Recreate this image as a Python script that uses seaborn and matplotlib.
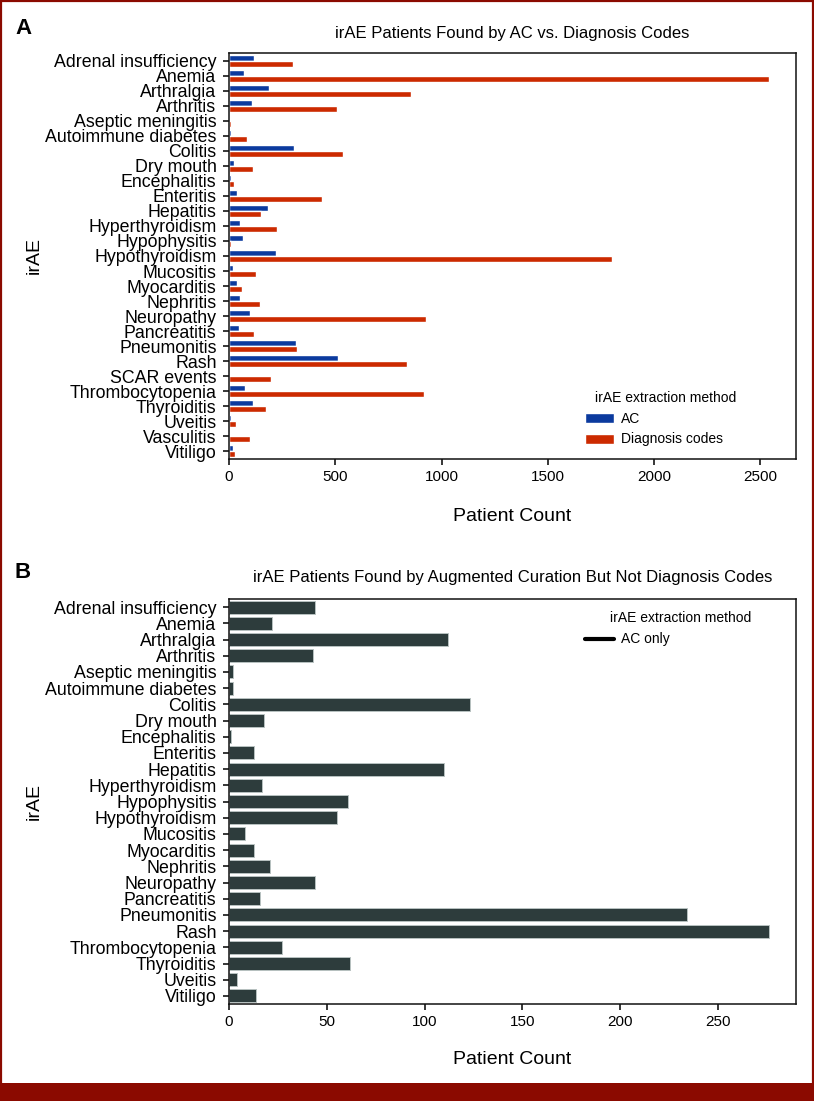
import matplotlib
matplotlib.use("Agg")
import matplotlib.pyplot as plt
import seaborn as sns
import pandas as pd
from matplotlib.lines import Line2D
from matplotlib.patches import Rectangle

# ---------------- data ----------------
categories = [
    "Adrenal insufficiency", "Anemia", "Arthralgia", "Arthritis", "Aseptic meningitis",
    "Autoimmune diabetes", "Colitis", "Dry mouth", "Encephalitis", "Enteritis",
    "Hepatitis", "Hyperthyroidism", "Hypophysitis", "Hypothyroidism", "Mucositis",
    "Myocarditis", "Nephritis", "Neuropathy", "Pancreatitis", "Pneumonitis", "Rash",
    "SCAR events", "Thrombocytopenia", "Thyroiditis", "Uveitis", "Vasculitis", "Vitiligo",
]
ac_counts = [117, 71, 189, 109, 2, 10, 307, 25, 8, 36, 183, 53, 66, 223, 19,
             38, 52, 101, 46, 315, 515, 0, 76, 113, 8, 0, 19]
dx_counts = [302, 2540, 858, 510, 8, 84, 535, 113, 25, 437, 150, 225, 11, 1802, 129,
             60, 146, 925, 117, 321, 839, 198, 915, 172, 33, 101, 30]

only_categories = [
    "Adrenal insufficiency", "Anemia", "Arthralgia", "Arthritis", "Aseptic meningitis",
    "Autoimmune diabetes", "Colitis", "Dry mouth", "Encephalitis", "Enteritis",
    "Hepatitis", "Hyperthyroidism", "Hypophysitis", "Hypothyroidism", "Mucositis",
    "Myocarditis", "Nephritis", "Neuropathy", "Pancreatitis", "Pneumonitis", "Rash",
    "Thrombocytopenia", "Thyroiditis", "Uveitis", "Vitiligo",
]
ac_only_counts = [44, 22, 112, 43, 2, 2, 123, 18, 1, 13, 110, 17, 61, 55, 8,
                  13, 21, 44, 16, 234, 276, 27, 62, 4, 14]

methods = ["AC", "Diagnosis codes"]
method_colors = ["#0b3a9e", "#cc2a00"]
only_color = "#2d3c3c"
frame_red = "#8b0a00"

# ---------------- style ----------------
sns.set_theme(style="ticks")
plt.rcParams["font.family"] = ["Liberation Sans", "DejaVu Sans"]
plt.rcParams.update({
    "axes.linewidth": 1.1,
    "xtick.major.width": 1.1,
    "ytick.major.width": 1.1,
    "xtick.major.size": 4,
    "ytick.major.size": 4,
    "text.color": "black",
    "axes.labelcolor": "black",
    "xtick.color": "black",
    "ytick.color": "black",
    "axes.edgecolor": "#111111",
})

W, H = 814, 1101
fig = plt.figure(figsize=(W / 100, H / 100), dpi=100)

def axes_px(left, top, right, bottom):
    return fig.add_axes([left / W, 1 - bottom / H, (right - left) / W, (bottom - top) / H])

ax1 = axes_px(229, 53, 796, 459)
ax2 = axes_px(229, 599, 796, 1004)

def style_axes(ax):
    ax.tick_params(axis="y", labelsize=12.8, pad=5)
    ax.tick_params(axis="x", labelsize=11, pad=4)
    ax.yaxis.set_label_coords(-0.328, 0.5)
    for s in ax.spines.values():
        s.set_visible(True)

# ---------------- panel A ----------------
df_a = pd.DataFrame({
    "irAE": categories * 2,
    "Patient Count": ac_counts + dx_counts,
    "irAE extraction method": [methods[0]] * len(categories) + [methods[1]] * len(categories),
})
sns.barplot(data=df_a, y="irAE", x="Patient Count", hue="irAE extraction method",
            hue_order=methods, palette=method_colors, saturation=1, orient="h",
            width=0.8, ax=ax1)
ax1.set_title("irAE Patients Found by AC vs. Diagnosis Codes", fontsize=12, pad=11)
ax1.set_xlabel("Patient Count", fontsize=14, labelpad=17)
ax1.set_ylabel("irAE", fontsize=14)
ax1.set_xticks([0, 500, 1000, 1500, 2000, 2500])
style_axes(ax1)
leg1 = ax1.legend(title="irAE extraction method", loc="lower left", frameon=False,
                  fontsize=10, title_fontsize=10, bbox_to_anchor=(0.606, 0.0),
                  handlelength=2.1, handleheight=0.75, handletextpad=0.5,
                  alignment="left")
leg1.get_title().set_x(10)

# ---------------- panel B ----------------
df_b = pd.DataFrame({"irAE": only_categories, "Patient Count": ac_only_counts})
sns.barplot(data=df_b, y="irAE", x="Patient Count", color=only_color, saturation=1,
            orient="h", width=0.8, edgecolor="#b8c2c1", linewidth=0.7, ax=ax2)
ax2.set_title("irAE Patients Found by Augmented Curation But Not Diagnosis Codes",
              fontsize=12, pad=12)
ax2.set_xlabel("Patient Count", fontsize=14, labelpad=16)
ax2.set_ylabel("irAE", fontsize=14)
ax2.set_xticks([0, 50, 100, 150, 200, 250])
style_axes(ax2)
handle = Line2D([], [], color="black", linewidth=3)
leg2 = ax2.legend([handle], ["AC only"], title="irAE extraction method", loc="upper left",
                  frameon=False, fontsize=10, title_fontsize=10,
                  bbox_to_anchor=(0.606, 1.0), handlelength=2.1, handletextpad=0.5,
                  alignment="left")
leg2.get_title().set_x(25)

# ---------------- panel letters & frame ----------------
fig.text(15 / W, 1 - 28 / H, "A", fontsize=16, fontweight="bold", va="center", ha="left")
fig.text(15 / W, 1 - 573 / H, "B", fontsize=16, fontweight="bold", va="center", ha="left")

fig.patches.append(Rectangle((0.001, 0.001), 0.998, 0.998, transform=fig.transFigure,
                             fill=False, edgecolor=frame_red, linewidth=1.6, zorder=10))
fig.patches.append(Rectangle((0, 0), 1, 18 / H, transform=fig.transFigure,
                             facecolor=frame_red, edgecolor="none", zorder=10))

fig.savefig("out.png", dpi=100, facecolor="white")
